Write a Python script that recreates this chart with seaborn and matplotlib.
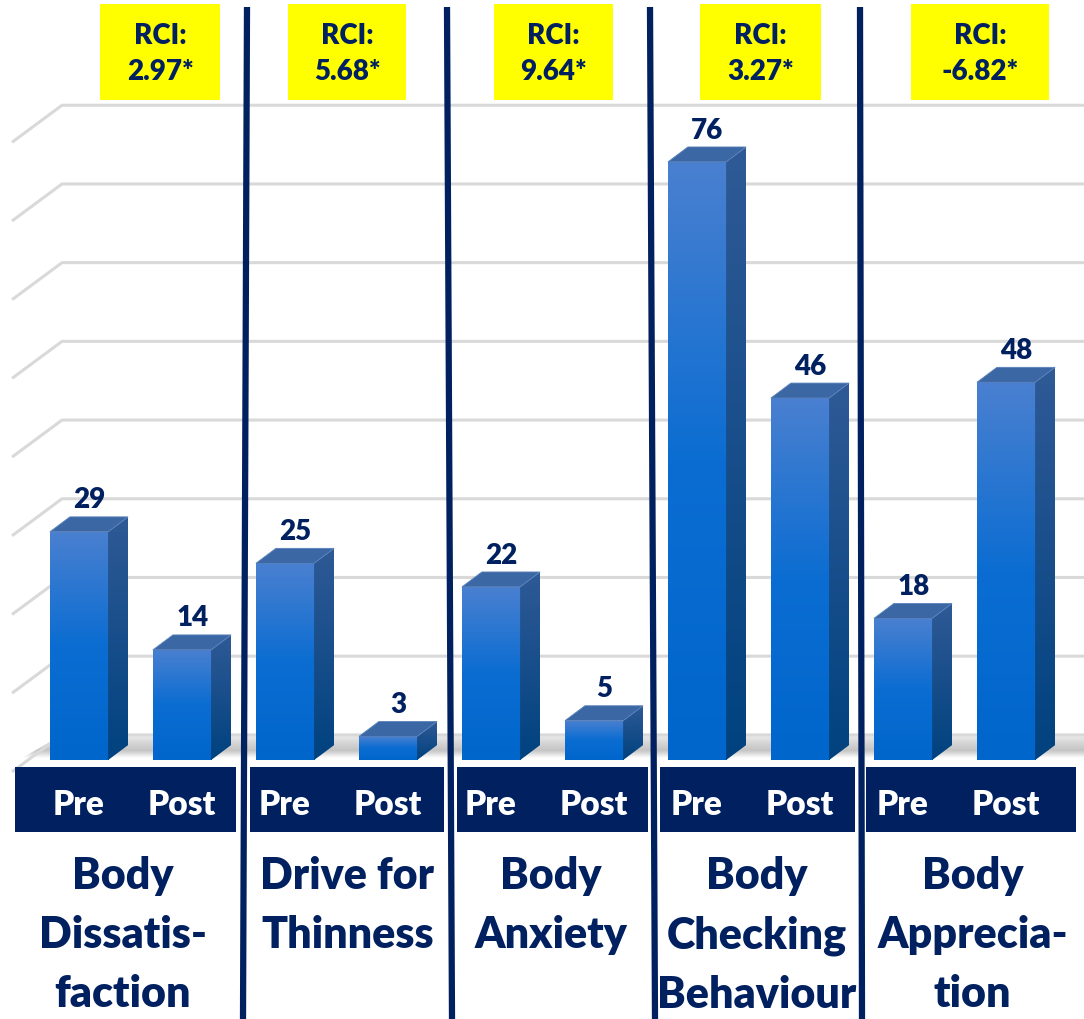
import numpy as np
import pandas as pd
import matplotlib
matplotlib.use("Agg")
import matplotlib.pyplot as plt
import seaborn as sns
from matplotlib.patches import Polygon, Rectangle
from matplotlib.colors import LinearSegmentedColormap
from matplotlib.transforms import Affine2D, blended_transform_factory

# -------------------------
# Data
# -------------------------
measures = ["Body\nDissatis-\nfaction", "Drive for\nThinness", "Body\nAnxiety",
            "Body\nChecking\nBehaviour", "Body\nApprecia-\ntion"]
phases = ["Pre", "Post"]
pre = [29, 25, 22, 76, 18]
post = [14, 3, 5, 46, 48]
rci = ["2.97*", "5.68*", "9.64*", "3.27*", "-6.82*"]

# -------------------------
# Style
# -------------------------
NAVY = "#002060"
YELLOW = "#ffff00"
FRONT = ["#0066cc", "#0b6dd2", "#4a80d0"]   # bottom -> top
SIDE = ["#00427f", "#2f5a96"]
TOP = "#3b67a5"
GRID = "#d9d9d9"
WT = "heavy"

sns.set_theme(style="white")
plt.rcParams['font.family'] = ['Lato', 'DejaVu Sans']

W, H = 1084, 1020
fig = plt.figure(figsize=(W / 100, H / 100), dpi=100)
ax = fig.add_axes([0, 0, 1, 1])

rows = []
for m, a, b in zip(measures, pre, post):
    rows.append((m + "|Pre", a))
    rows.append((m + "|Post", b))
df = pd.DataFrame(rows, columns=["bar", "score"])

BAR_W = 0.565
DX, DY = 0.194, 1.9          # depth of the 3D bars
sns.barplot(data=df, x="bar", y="score", width=BAR_W, color=FRONT[0],
            saturation=1, ax=ax, zorder=3, linewidth=0)

XMIN, XMAX = -0.767, 9.757
ax.set_xlim(XMIN, XMAX)
ax.set_ylim(-32.9, 96.7)
ax.axis("off")

# layout helper: pixel coords from top-left
px = Affine2D().scale(1 / W, -1 / H).translate(0, 1) + fig.transFigure
tx = blended_transform_factory(ax.transData, px)


def grad(clip, colors, extent, z):
    cmap = LinearSegmentedColormap.from_list("g", colors)
    im = ax.imshow(np.linspace(0, 1, 256).reshape(-1, 1), cmap=cmap,
                   extent=extent, origin="lower", aspect="auto", zorder=z)
    im.set_clip_path(clip)


# -------------------------
# Back wall gridlines + floor
# -------------------------
BACK, DROP = 3.2, 4.7
XB, XF = -0.165, -0.65
floor = Polygon([(XB, BACK), (XMAX, BACK), (XMAX, 0.3), (XF + 0.1, 0.3)],
                closed=True, facecolor="none", edgecolor="none", zorder=1)
ax.add_patch(floor)
grad(floor, ["#ffffff", "#c4c4c4", "#d6d6d6", "#ececec"],
     (XF, XMAX, 0.3, BACK), 1)

for v in range(0, 90, 10):
    ax.plot([XF, XB, XMAX], [v + BACK - DROP, v + BACK, v + BACK],
            color=GRID, lw=2.2, zorder=1.5, solid_capstyle="butt")

# -------------------------
# 3D faces on seaborn bars
# -------------------------
for p in ax.patches[:]:
    if not isinstance(p, Rectangle) or p is floor:
        continue
    x0, w, h = p.get_x(), p.get_width(), p.get_height()
    x1 = x0 + w
    grad(p, FRONT, (x0, x1, 0, h), 3.1)
    side = Polygon([(x1, 0), (x1 + DX, DY), (x1 + DX, h + DY), (x1, h)],
                   closed=True, facecolor="none", edgecolor="none", zorder=3)
    ax.add_patch(side)
    grad(side, SIDE, (x1, x1 + DX, 0, h + DY), 3.1)
    ax.add_patch(Polygon([(x0, h), (x0 + DX, h + DY), (x1 + DX, h + DY), (x1, h)],
                         closed=True, facecolor=TOP, edgecolor="#5a82bb",
                         lw=0.6, zorder=3.2))
    ax.text(x0 + w / 2 + 0.1, h + DY + 1.2, f"{h:.0f}", ha="center",
            va="baseline", fontsize=20, fontweight=WT, color=NAVY, zorder=5)

# -------------------------
# Bottom band with Pre / Post
# -------------------------
band_x = [(15, 236), (250, 444), (457, 648), (660, 855), (866, 1076)]
for a, b in band_x:
    ax.add_patch(Rectangle((a, 768), b - a, 65, transform=px,
                           facecolor=NAVY, edgecolor="none", zorder=6))
for i in range(len(df)):
    ax.text(i, 815, phases[i % 2], transform=tx, ha="center", va="baseline",
            fontsize=24, fontweight=WT, color="white", zorder=7)

# -------------------------
# Panel separators
# -------------------------
sep_top = [247, 447, 650, 860]
sep_bot = [243, 452, 655, 862]
for t, b in zip(sep_top, sep_bot):
    ax.plot([t, b], [8, 1020], transform=px, color=NAVY, lw=4.5,
            zorder=8, solid_capstyle="butt")

# category names centred in panel
edges = [0] + [(t + b) / 2 for t, b in zip(sep_top, sep_bot)] + [W]
for k, m in enumerate(measures):
    cx = (edges[k] + edges[k + 1]) / 2
    ax.text(cx, 856, m, transform=px, ha="center", va="top", fontsize=31,
            fontweight=WT, color=NAVY, linespacing=1.58, zorder=7)

# -------------------------
# RCI boxes
# -------------------------
box_x = [(100, 220), (288, 406), (494, 613), (700, 821), (911, 1049)]
for (a, b), r in zip(box_x, rci):
    ax.add_patch(Rectangle((a, 5), b - a, 96, transform=px,
                           facecolor=YELLOW, edgecolor="none", zorder=6))
    ax.text((a + b) / 2, 36, "RCI:", transform=px, ha="center", va="center",
            fontsize=20, fontweight=WT, color=NAVY, zorder=7)
    ax.text((a + b) / 2, 72, r, transform=px, ha="center", va="center",
            fontsize=20, fontweight=WT, color=NAVY, zorder=7)

plt.savefig("out.png", dpi=100)
